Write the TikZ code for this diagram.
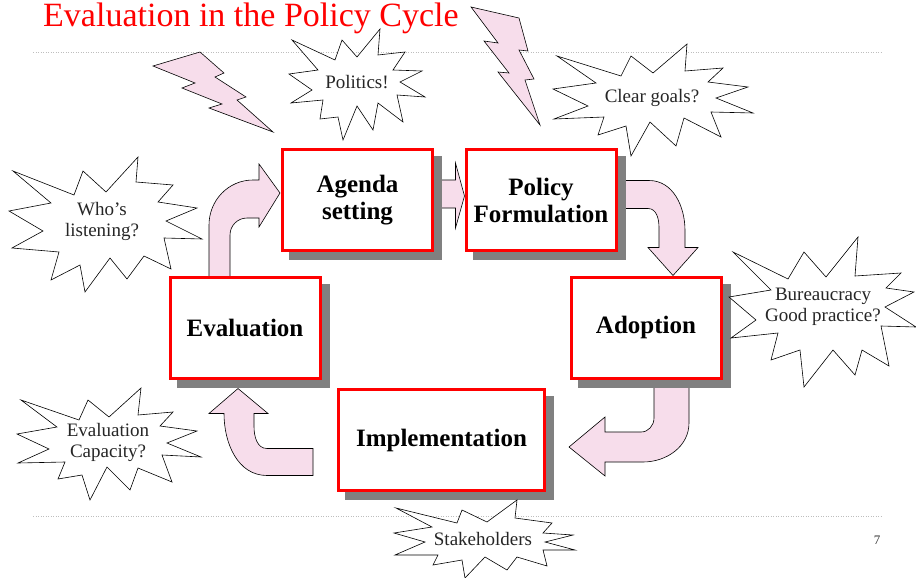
\documentclass[tikz,border=0pt]{standalone}
\usepackage{fontspec}
\setmainfont{Liberation Serif}
\usetikzlibrary{shadows}
\usetikzlibrary{backgrounds}

\definecolor{boxred}{RGB}{255,0,0}
\definecolor{shadowgray}{RGB}{128,128,128}
\definecolor{arrowpink}{RGB}{247,221,235}
\definecolor{rulegray}{RGB}{190,190,190}

\tikzset{
  stage/.style={draw=boxred, line width=3pt, fill=white, align=center,
    minimum width=150pt, minimum height=101pt, inner sep=2pt,
    font=\fontsize{25}{27}\selectfont\bfseries,
    drop shadow={shadow xshift=8pt, shadow yshift=-8pt, fill=shadowgray,
      draw=shadowgray, line width=3pt, opacity=1}},
  flow/.style={draw=black, fill=arrowpink, line width=0.6pt},
  bolt/.style={draw=black, fill=arrowpink, line width=0.6pt},
  burst/.style={draw=black, fill=white, line width=0.6pt},
  bursttext/.style={align=center, inner sep=0pt, text=black!85,
    font=\fontsize{19}{21}\selectfont},
  ruleline/.style={rulegray, dotted, line width=0.5pt},
}

\begin{document}
\begin{tikzpicture}[x=1pt, y=-1pt]
        \useasboundingbox (0,0) rectangle (916,578);

        \node[anchor=base west, inner sep=0pt, text=boxred,
              font=\fontsize{34}{40}\selectfont] (title) at (43,27)
              {Evaluation in the Policy Cycle};
        \draw[ruleline] (33,52) -- (882,52);
        \draw[ruleline] (33,516) -- (882,516);

        % the five stages
        \node[stage] (agenda) at (357.5,200) {Agenda\\setting};
        \node[stage] (policy) at (541,200) {Policy\\Formulation};
        \node[stage] (adoption) at (646,327.5) {Adoption};
        \node[stage, minimum width=206pt] (implementation) at (441.5,440) {Implementation};
        \node[stage] (evaluation) at (245,327.5) {Evaluation};

        % block arrows between the stages, tucked behind the boxes
        \begin{scope}[on background layer]
            % evaluation -> agenda
            \draw[flow] ([shift={(-1,-7)}]agenda.west) -- ++(-21,34) -- ++(0,-9)
                -- ++(-12,0) to[out=180,in=90] ++(-17,17) -- ++(0,45) -- ++(-21,0)
                -- ++(0,-55) to[out=90,in=180] ++(44,-45) -- ++(6,0) -- ++(0,-16) -- cycle;
            % agenda -> policy
            \draw[flow] ([shift={(0,-4)}]policy.west) -- ++(-9,-33) -- ++(0,17)
                -- ++(-21,0) -- ++(0,28) -- ++(21,0) -- ++(0,20) -- cycle;
            % policy -> adoption
            \draw[flow] ([shift={(27,0)}]adoption.north) -- ++(25,-28) -- ++(-13,0)
                -- ++(0,-17) to[out=90,in=0] ++(-36,-50) -- ++(-39,0) -- ++(0,28)
                -- ++(38,0) to[out=0,in=90] ++(11,19) -- ++(0,20) -- ++(-11,0) -- cycle;
            % adoption -> implementation
            \draw[flow] ([shift={(23,7)}]implementation.east) -- ++(36,-30) -- ++(0,15)
                -- ++(36,0) to[out=0,in=-90] ++(13,-14) -- ++(0,-48) -- ++(35,0)
                -- ++(0,53) to[out=-90,in=0] ++(-46,39) -- ++(-38,0) -- ++(0,14) -- cycle;
            % implementation -> evaluation
            \draw[flow] ([shift={(-7,9)}]evaluation.south) -- ++(30,25) -- ++(-14,0)
                -- ++(0,13) to[out=-90,in=180] ++(13,22) -- ++(46,0) -- ++(0,27)
                -- ++(-46,0) to[out=180,in=-90] ++(-43,-62) -- ++(-15,0) -- cycle;
        \end{scope}

        % lightning bolts
        \draw[bolt] (153,66) -- (200,52) -- (224,73) -- (215,77) -- (246,97) -- (237,100)
            -- (273,132) -- (209,108) -- (222,104) -- (182,88) -- (195,83) -- cycle;
        \draw[bolt] (471,7) -- (519,18) -- (528,51) -- (519,50) -- (534,79) -- (525,80)
            -- (540,125) -- (498,72) -- (509,73) -- (484,41) -- (498,43) -- cycle;

        % bursts with the questions
        \draw[burst] (292,40) -- (335,60) -- (342,40) -- (357,57) -- (380,29) -- (378,55)
            -- (405,52) -- (393,70) -- (422,71) -- (400,82) -- (425,97) -- (397,95)
            -- (403,122) -- (378,103) -- (373,130) -- (357,106) -- (343,140) -- (338,117)
            -- (320,119) -- (323,100) -- (291,103) -- (312,90) -- (289,74) -- (318,70) -- cycle;
        \node[bursttext] (politics) at (357,82) {Politics!};

        \draw[burst] (557,56) -- (621,76) -- (631,56) -- (653,73) -- (687,44) -- (685,71)
            -- (723,68) -- (708,82) -- (748,87) -- (716,98) -- (753,113) -- (711,112)
            -- (721,137) -- (684,118) -- (676,146) -- (650,122) -- (631,156) -- (626,126)
            -- (598,135) -- (604,117) -- (554,119) -- (588,106) -- (553,89) -- (596,83) -- cycle;
        \node[bursttext] (goals) at (652,98) {Clear goals?};

        \draw[burst] (13,171) -- (74,195) -- (83,171) -- (106,192) -- (138,157) -- (136,182)
            -- (173,185) -- (158,202) -- (197,208) -- (166,221) -- (202,239) -- (164,238)
            -- (171,269) -- (144,256) -- (127,279) -- (110,258) -- (85,292) -- (80,265)
            -- (51,280) -- (59,252) -- (12,248) -- (43,231) -- (9,211) -- (51,203) -- cycle;
        \node[bursttext] (listening) at (102,221) {Who’s\\listening?};

        \draw[burst] (733,252) -- (788,279) -- (804,252) -- (826,277) -- (858,237) -- (855,276)
            -- (901,273) -- (886,288) -- (914,292) -- (885,307) -- (916,327) -- (881,326)
            -- (889,366) -- (862,350) -- (855,375) -- (833,350) -- (804,387) -- (800,350)
            -- (771,360) -- (778,333) -- (731,338) -- (756,320) -- (729,297) -- (771,290) -- cycle;
        \node[bursttext] (bureaucracy) at (823,307) {Bureaucracy\\Good practice?};

        \draw[burst] (21,400) -- (79,420) -- (88,400) -- (109,417) -- (141,388) -- (138,415)
            -- (173,412) -- (160,426) -- (197,431) -- (167,443) -- (201,457) -- (162,455)
            -- (172,482) -- (138,468) -- (130,490) -- (107,467) -- (90,500) -- (82,475)
            -- (58,479) -- (65,462) -- (18,463) -- (49,449) -- (17,434) -- (57,427) -- cycle;
        \node[bursttext] (capacity) at (108,442) {Evaluation\\Capacity?};

        \draw[burst] (396,508) -- (457,523) -- (462,510) -- (487,522) -- (517,500) -- (515,518)
            -- (552,523) -- (543,533) -- (573,535) -- (545,542) -- (575,550) -- (543,550)
            -- (547,566) -- (517,557) -- (507,570) -- (485,557) -- (465,578) -- (462,560)
            -- (433,565) -- (438,555) -- (395,555) -- (425,542) -- (394,533) -- (432,527) -- cycle;
        \node[bursttext] (stakeholders) at (483,539) {Stakeholders};

        \node[text=black!80, font=\fontsize{13}{15}\selectfont] (pagenum) at (877,540) {7};
\end{tikzpicture}
\end{document}
